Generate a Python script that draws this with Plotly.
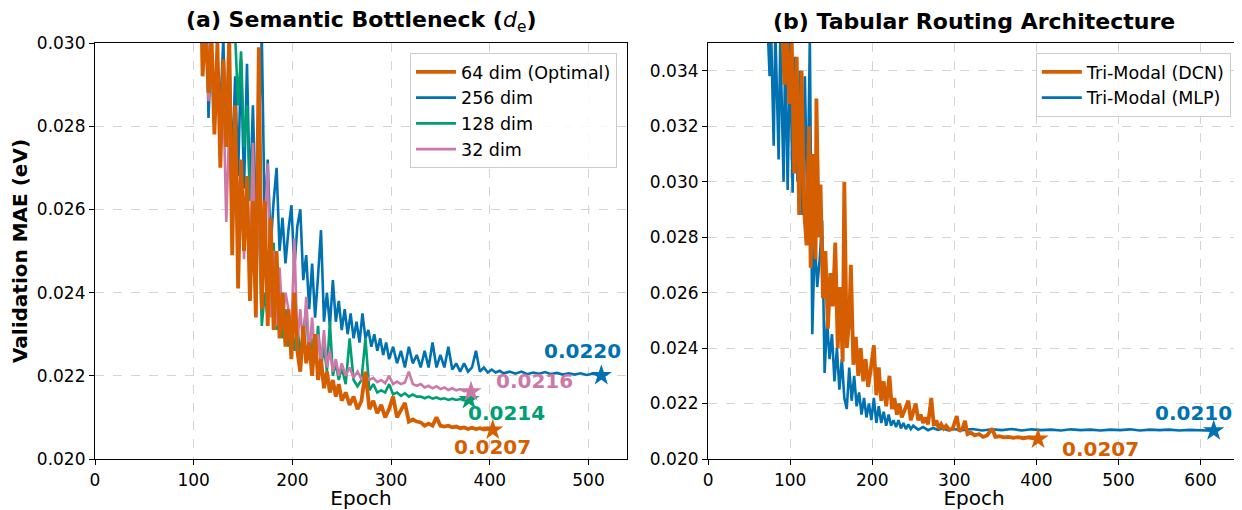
import plotly.graph_objects as go
from plotly.subplots import make_subplots

# ---------------- Panel (a): Semantic bottleneck ----------------
E64 = [106, 109, 112, 115, 118, 121, 124, 127, 130, 133, 136, 139, 142, 145, 148, 151, 154, 157, 160, 163,
       166, 169, 172, 175, 178, 181, 184, 187, 190, 193, 196, 199, 202, 205, 208, 211, 214, 217, 220, 223,
       226, 229, 232, 235, 238, 241, 244, 247, 250, 254, 258, 262, 266, 270, 274, 278, 282, 286, 290, 294,
       298, 302, 306, 310, 314, 318, 322, 326, 330, 334, 338, 342, 346, 350, 354, 358, 362, 366, 370, 374,
       378, 382, 386, 390, 394, 398, 403]
V64 = [0.0330, 0.0292, 0.0305, 0.0288, 0.0302, 0.0278, 0.0300, 0.0270, 0.0296, 0.0275, 0.0302, 0.0249, 0.0285,
       0.0241, 0.0272, 0.0250, 0.0268, 0.0238, 0.0262, 0.0234, 0.0299, 0.0236, 0.0262, 0.0232, 0.0258, 0.0231,
       0.0250, 0.0229, 0.0240, 0.0227, 0.0236, 0.0224, 0.0240, 0.0226, 0.0221, 0.0232, 0.0223, 0.0228, 0.0220,
       0.0230, 0.0219, 0.0224, 0.0217, 0.0221, 0.0216, 0.0219, 0.0215, 0.0218, 0.0214, 0.0216, 0.0213, 0.0215,
       0.0212, 0.0214, 0.0221, 0.0212, 0.0214, 0.0211, 0.0213, 0.0210, 0.0212, 0.0215, 0.0210, 0.0212, 0.02135,
       0.0209, 0.02095, 0.0209, 0.02088, 0.0208, 0.02085, 0.0208, 0.0210, 0.0208, 0.02078, 0.0208, 0.02076,
       0.02078, 0.02074, 0.02076, 0.02072, 0.02075, 0.02072, 0.02074, 0.02071, 0.02073, 0.02070]

E256 = [112, 115, 118, 121, 124, 127, 130, 133, 136, 139, 142, 145, 148, 151, 154, 157, 160, 163, 166, 169,
        172, 175, 178, 181, 184, 187, 190, 193, 196, 199, 202, 205, 208, 211, 214, 217, 220, 223, 226, 229,
        232, 235, 238, 241, 244, 247, 250, 253, 256, 259, 262, 265, 268, 271, 274, 277, 280, 283, 286, 289,
        292, 295, 298, 302, 306, 310, 314, 318, 322, 326, 330, 334, 338, 342, 346, 350, 354, 358, 362, 366,
        370, 374, 378, 382, 386, 390, 394, 398, 402, 406, 410, 414, 420, 426, 432, 438, 444, 450, 456, 462,
        468, 474, 480, 486, 492, 498, 504, 510, 513]
V256 = [0.0320, 0.0282, 0.0300, 0.0279, 0.0296, 0.0284, 0.0301, 0.0276, 0.0298, 0.0270, 0.0292, 0.0268, 0.0296,
        0.0265, 0.0295, 0.0262, 0.0285, 0.0258, 0.0278, 0.0302, 0.0256, 0.0272, 0.0251, 0.0262, 0.0270, 0.0250,
        0.0258, 0.0247, 0.0255, 0.0261, 0.0246, 0.0256, 0.0260, 0.0243, 0.0249, 0.0236, 0.0247, 0.0234, 0.0244,
        0.0255, 0.0233, 0.0240, 0.0232, 0.0243, 0.0233, 0.0238, 0.0231, 0.0236, 0.0230, 0.0235, 0.0229, 0.0233,
        0.0228, 0.0235, 0.0229, 0.0231, 0.0227, 0.0230, 0.0226, 0.0229, 0.0225, 0.0228, 0.0224, 0.0227, 0.0223,
        0.0226, 0.0222, 0.0227, 0.0223, 0.0225, 0.0222, 0.0226, 0.0222, 0.0228, 0.0222, 0.0225, 0.0222, 0.0227,
        0.02215, 0.0223, 0.0221, 0.0223, 0.0221, 0.0222, 0.0226, 0.0221, 0.0222, 0.02208, 0.02215, 0.02208,
        0.02212, 0.02206, 0.02210, 0.02205, 0.02210, 0.02204, 0.02208, 0.02205, 0.02209, 0.02204, 0.02207,
        0.02203, 0.02206, 0.02203, 0.02206, 0.02202, 0.02205, 0.02203, 0.02201]

E128 = [136, 139, 142, 145, 148, 151, 154, 157, 160, 163, 166, 169, 172, 175, 178, 181, 184, 187, 190, 193,
        196, 199, 202, 205, 208, 211, 214, 217, 220, 223, 226, 229, 232, 235, 238, 241, 244, 247, 250, 254,
        258, 262, 266, 270, 274, 278, 282, 286, 290, 294, 298, 302, 306, 310, 314, 318, 322, 326, 330, 334,
        338, 342, 346, 350, 354, 358, 362, 366, 370, 374, 379]
V128 = [0.0320, 0.0300, 0.0302, 0.0285, 0.0298, 0.0275, 0.0285, 0.0262, 0.0274, 0.0248, 0.0258, 0.0232, 0.0240,
        0.0234, 0.0246, 0.0252, 0.0231, 0.0238, 0.0229, 0.0236, 0.0227, 0.0233, 0.0226, 0.0232, 0.0225, 0.0230,
        0.0236, 0.0224, 0.0229, 0.0223, 0.0232, 0.0222, 0.0227, 0.0221, 0.0233, 0.0220, 0.0223, 0.0219, 0.0222,
        0.0218, 0.0229, 0.0219, 0.02175, 0.0219, 0.0229, 0.02165, 0.0218, 0.0216, 0.02165, 0.0216, 0.0218,
        0.02155, 0.0216, 0.02152, 0.02158, 0.0215, 0.02155, 0.0215, 0.0215, 0.02146, 0.0215, 0.02145, 0.02148,
        0.02144, 0.02146, 0.02142, 0.02145, 0.02142, 0.02144, 0.02141, 0.02143]

E32 = [112, 115, 118, 121, 124, 127, 130, 133, 136, 139, 142, 145, 148, 151, 154, 157, 160, 163, 166, 169,
       172, 175, 178, 181, 184, 187, 190, 193, 196, 199, 202, 205, 208, 211, 214, 217, 220, 223, 226, 229,
       232, 235, 238, 241, 244, 247, 250, 254, 258, 262, 266, 270, 274, 278, 282, 286, 290, 294, 298, 302,
       306, 310, 314, 318, 322, 326, 330, 334, 338, 342, 346, 350, 354, 358, 362, 366, 370, 374, 378, 381]
V32 = [0.0310, 0.0286, 0.0298, 0.0282, 0.0294, 0.0275, 0.0288, 0.0257, 0.0280, 0.0255, 0.0276, 0.0262, 0.0270,
       0.0248, 0.0266, 0.0245, 0.0276, 0.0243, 0.0262, 0.0236, 0.0255, 0.0271, 0.0234, 0.0250, 0.0232, 0.0246,
       0.0233, 0.0240, 0.0236, 0.0230, 0.0253, 0.0228, 0.0236, 0.0227, 0.0239, 0.0225, 0.0234, 0.0224, 0.0230,
       0.0223, 0.0231, 0.0222, 0.0226, 0.0221, 0.0224, 0.0220, 0.0223, 0.0220, 0.0222, 0.02195, 0.0221, 0.02192,
       0.0220, 0.0219, 0.02195, 0.02185, 0.0219, 0.02182, 0.0220, 0.0218, 0.02186, 0.0218, 0.02184, 0.0221,
       0.0218, 0.02176, 0.0218, 0.02172, 0.02176, 0.0217, 0.02175, 0.02168, 0.02172, 0.02166, 0.0217, 0.02165,
       0.02168, 0.02163, 0.02165, 0.02162]

# ---------------- Panel (b): Tabular routing ----------------
E_DCN = [90, 93, 96, 99, 102, 105, 108, 111, 114, 117, 120, 123, 125, 128, 131, 132, 135, 137, 140, 143,
         146, 149, 152, 155, 158, 161, 164, 166, 169, 172, 174, 177, 180, 183, 186, 189, 192, 195, 198, 202,
         205, 208, 211, 214, 217, 221, 224, 227, 230, 233, 236, 240, 244, 247, 250, 253, 256, 259, 262, 265,
         268, 272, 275, 278, 281, 284, 287, 290, 294, 298, 303, 306, 310, 313, 316, 320, 325, 330, 335, 340,
         346, 350, 355, 360, 366, 372, 378, 384, 390, 396, 402]
V_DCN = [0.0360, 0.0335, 0.0352, 0.0328, 0.0350, 0.0303, 0.0345, 0.0288, 0.0340, 0.0290, 0.0277, 0.0320, 0.0269,
         0.0310, 0.0272, 0.0330, 0.0280, 0.0299, 0.0258, 0.0275, 0.0247, 0.0267, 0.0255, 0.0278, 0.0240, 0.0262,
         0.0235, 0.0300, 0.0240, 0.0250, 0.0270, 0.0234, 0.0244, 0.0230, 0.0240, 0.0228, 0.0236, 0.0226, 0.0232,
         0.0241, 0.0223, 0.0233, 0.0221, 0.0228, 0.0219, 0.0230, 0.0218, 0.0222, 0.0216, 0.0220, 0.0215, 0.0218,
         0.0221, 0.0214, 0.0217, 0.0220, 0.0214, 0.0216, 0.0213, 0.0215, 0.02125, 0.0222, 0.0212, 0.0214, 0.0211,
         0.02125, 0.0211, 0.0212, 0.02105, 0.0211, 0.02155, 0.0210, 0.0211, 0.02138, 0.0209, 0.02095, 0.02085,
         0.0209, 0.0208, 0.02085, 0.0211, 0.0208, 0.02082, 0.02078, 0.0208, 0.02076, 0.02079, 0.02075, 0.02078,
         0.02074, 0.02072]

E_MLP = [72, 75, 77, 80, 82, 86, 88, 92, 94, 97, 100, 103, 106, 109, 112, 115, 118, 121, 124, 127,
         130, 133, 136, 139, 142, 145, 148, 151, 154, 157, 160, 163, 166, 169, 172, 175, 178, 181, 184, 187,
         190, 193, 196, 199, 202, 205, 208, 211, 214, 217, 220, 223, 226, 229, 232, 235, 238, 241, 244, 247,
         250, 256, 262, 268, 274, 280, 286, 292, 298, 310, 322, 334, 346, 358, 370, 382, 394, 406, 418, 430,
         442, 454, 466, 478, 490, 502, 514, 526, 538, 550, 562, 574, 586, 598, 610, 616]
V_MLP = [0.0360, 0.0338, 0.0352, 0.0313, 0.0355, 0.0308, 0.0352, 0.0300, 0.0348, 0.0297, 0.0350, 0.0296, 0.0345,
         0.0300, 0.0340, 0.0288, 0.0338, 0.0287, 0.0352, 0.0245, 0.0280, 0.0262, 0.0272, 0.0286, 0.0231, 0.0250,
         0.0236, 0.0245, 0.0228, 0.0240, 0.0225, 0.0236, 0.0222, 0.0218, 0.0233, 0.0221, 0.0230, 0.0219, 0.0224,
         0.0216, 0.0222, 0.0215, 0.0220, 0.0214, 0.0222, 0.0213, 0.0219, 0.0213, 0.0217, 0.0212, 0.0216, 0.0212,
         0.0214, 0.02115, 0.0214, 0.0211, 0.0213, 0.02108, 0.02125, 0.02108, 0.0212, 0.02106, 0.02115, 0.02104,
         0.02112, 0.02105, 0.0211, 0.02104, 0.02108, 0.02104, 0.02108, 0.02103, 0.02107, 0.02104, 0.02108,
         0.02103, 0.02107, 0.02104, 0.02106, 0.02103, 0.02107, 0.02104, 0.02106, 0.02103, 0.02106, 0.02104,
         0.02107, 0.02103, 0.02106, 0.02104, 0.02106, 0.02103, 0.02105, 0.02104, 0.02103, 0.02102]

ORANGE = "#D55E00"
BLUE = "#0072B2"
GREEN = "#009E73"
PINK = "#CC79A7"
FONT = "DejaVu Sans"

fig = make_subplots(rows=1, cols=2, horizontal_spacing=0.0708)

left_series = [
    ("256 dim", E256, V256, BLUE, 2.6, 2),
    ("128 dim", E128, V128, GREEN, 2.6, 3),
    ("32 dim", E32, V32, PINK, 2.6, 4),
    ("64 dim (Optimal)", E64, V64, ORANGE, 3.8, 1),
]
for name, ex, vy, col, w, rank in left_series:
    fig.add_trace(go.Scatter(x=ex, y=vy, mode="lines", name=name, legend="legend",
                             legendrank=rank, line=dict(color=col, width=w)), row=1, col=1)
for name, ex, vy, col, w, rank in left_series:
    fig.add_trace(go.Scatter(x=[ex[-1]], y=[vy[-1]], mode="markers", showlegend=False,
                             marker=dict(symbol="star", size=16, color=col)), row=1, col=1)

right_series = [
    ("Tri-Modal (MLP)", E_MLP, V_MLP, BLUE, 2.6, 2),
    ("Tri-Modal (DCN)", E_DCN, V_DCN, ORANGE, 3.8, 1),
]
for name, ex, vy, col, w, rank in right_series:
    fig.add_trace(go.Scatter(x=ex, y=vy, mode="lines", name=name, legend="legend2",
                             legendrank=rank, line=dict(color=col, width=w)), row=1, col=2)
for name, ex, vy, col, w, rank in right_series:
    fig.add_trace(go.Scatter(x=[ex[-1]], y=[vy[-1]], mode="markers", showlegend=False,
                             marker=dict(symbol="star", size=16, color=col)), row=1, col=2)

# value labels at the final points
labels = [
    ("x", "y", E64, V64, ORANGE, 0, -17),
    ("x", "y", E256, V256, BLUE, -19, 24),
    ("x", "y", E128, V128, GREEN, 37, -13),
    ("x", "y", E32, V32, PINK, 63, 11),
    ("x2", "y2", E_DCN, V_DCN, ORANGE, 62, -10),
    ("x2", "y2", E_MLP, V_MLP, BLUE, -20, 18),
]
for xr, yr, ex, vy, col, dx, dy in labels:
    fig.add_annotation(x=ex[-1], y=vy[-1], xref=xr, yref=yr, text=f"<b>{vy[-1]:.4f}</b>",
                       showarrow=False, xshift=dx, yshift=dy, xanchor="center", yanchor="middle",
                       font=dict(family=FONT, size=20, color=col))

axis_common = dict(showline=True, linecolor="black", linewidth=1.2, mirror=True,
                   ticks="outside", ticklen=5, tickwidth=1.2, tickcolor="black",
                   showgrid=True, gridcolor="#d4d4d4", griddash="dash", gridwidth=1,
                   zeroline=False, automargin=False,
                   tickfont=dict(family=FONT, size=17, color="black"))

fig.update_xaxes(**axis_common)
fig.update_yaxes(**axis_common)
fig.update_xaxes(range=[0, 539], dtick=100, row=1, col=1,
                 title=dict(text="Epoch", font=dict(family=FONT, size=20, color="black"), standoff=10))
fig.update_xaxes(range=[0, 648], dtick=100, row=1, col=2,
                 title=dict(text="Epoch", font=dict(family=FONT, size=20, color="black"), standoff=10))
fig.update_yaxes(range=[0.020, 0.030], dtick=0.002, tickformat=".3f", row=1, col=1,
                 title=dict(text="<b>Validation MAE (eV)</b>",
                            font=dict(family=FONT, size=20, color="black"), standoff=8))
fig.update_yaxes(range=[0.020, 0.035], dtick=0.002, tickformat=".3f", row=1, col=2)

# page body has an 8px margin, so the figure is sized to fill the rest of the window
fig.update_layout(
    width=1234, height=502,
    margin=dict(l=87, r=2, t=35, b=51),
    paper_bgcolor="white", plot_bgcolor="white",
    font=dict(family=FONT, color="black"),
    xaxis=dict(domain=[0, 0.4646]),
    xaxis2=dict(domain=[0.5354, 1.0]),
    legend=dict(x=0.4559, y=0.976, xanchor="right", yanchor="top",
                bgcolor="rgba(255,255,255,0.85)", bordercolor="#cccccc", borderwidth=1,
                font=dict(family=FONT, size=17.5), tracegroupgap=0, itemwidth=40),
    legend2=dict(x=0.992, y=0.976, xanchor="right", yanchor="top",
                 bgcolor="rgba(255,255,255,0.85)", bordercolor="#cccccc", borderwidth=1,
                 font=dict(family=FONT, size=17.5), tracegroupgap=0, itemwidth=40),
    showlegend=True,
)

fig.add_annotation(x=0.2323, y=1.0, xref="paper", yref="paper", yshift=22, showarrow=False,
                   xanchor="center", yanchor="middle",
                   text="<b>(a) Semantic Bottleneck (</b><i>d</i><sub>e</sub><b>)</b>",
                   font=dict(family=FONT, size=22, color="black"))
fig.add_annotation(x=0.7677, y=1.0, xref="paper", yref="paper", yshift=22, showarrow=False,
                   xanchor="center", yanchor="middle",
                   text="<b>(b) Tabular Routing Architecture</b>",
                   font=dict(family=FONT, size=22, color="black"))

fig.write_html("out.html")
